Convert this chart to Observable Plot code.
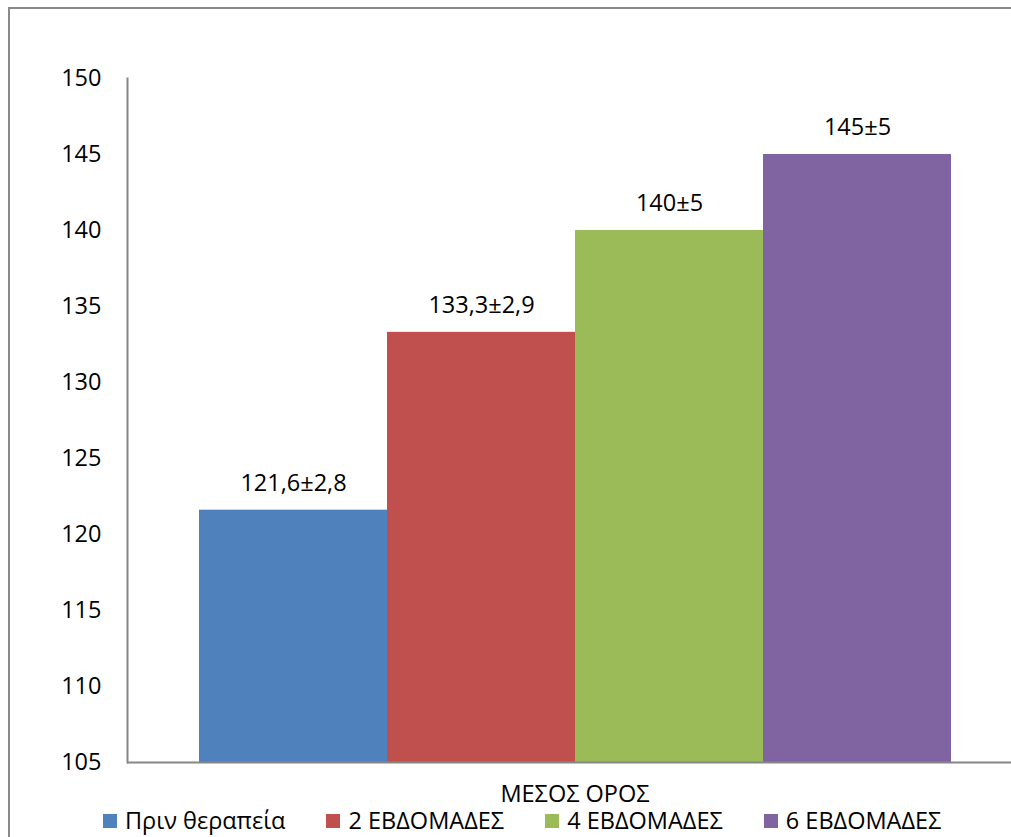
<!DOCTYPE html>
<html>
<head>
<meta charset="utf-8">
<script src="https://cdn.jsdelivr.net/npm/d3@7"></script>
<script src="https://cdn.jsdelivr.net/npm/@observablehq/plot@0.6"></script>
<style>
  html, body { margin: 0; padding: 0; overflow: hidden; background: #fff; width: 1011px; height: 837px; }
  #border { position: absolute; left: 8px; top: 7px; width: 1100px; height: 900px; border: 2px solid #8a8a8a; box-sizing: border-box; }
  #chart { position: absolute; left: 0; top: 0; width: 1022px; }
  #chart svg { max-width: none !important; }
  #legend { position: absolute; left: 103px; top: 809px; display: flex; align-items: center; font-family: "Open Sans", sans-serif; font-size: 23.5px; line-height: 1; color: #000; white-space: nowrap; }
  .item { display: flex; align-items: center; margin-right: 41px; }
  .sw { width: 14px; height: 14px; margin-right: 8px; }
</style>
</head>
<body>
<div id="border"></div>
<div id="chart"></div>
<div id="legend"></div>
<script>
const category = ["ΜΕΣΟΣ ΟΡΟΣ"];
const series = ["Πριν θεραπεία", "2 ΕΒΔΟΜΑΔΕΣ", "4 ΕΒΔΟΜΑΔΕΣ", "6 ΕΒΔΟΜΑΔΕΣ"];
const values = [121.6, 133.3, 140, 145];
const labels = ["121,6±2,8", "133,3±2,9", "140±5", "145±5"];
const colors = ["#4F81BD", "#C0504D", "#9BBB59", "#8064A2"];
const yTicks = [105, 110, 115, 120, 125, 130, 135, 140, 145, 150];

const data = series.map((s, i) => ({series: s, value: values[i], label: labels[i]}));

const chart = Plot.plot({
  width: 1022,
  height: 818,
  marginTop: 78,
  marginBottom: 56,
  marginLeft: 127,
  marginRight: 0,
  style: {fontFamily: "'Open Sans', sans-serif", fontSize: "23.5px", color: "#000", background: "transparent", maxWidth: "none"},
  x: {domain: series, paddingInner: 0, paddingOuter: 0.371, axis: null},
  y: {domain: [105, 150], ticks: yTicks, label: null},
  color: {domain: series, range: colors},
  marks: [
    Plot.barY(data, {x: "series", y1: 105, y2: "value", fill: "series"}),
    Plot.text(data, {x: "series", y: "value", text: "label", dy: -27, fontSize: 23.5, fill: "#000"}),
    Plot.text(category, {frameAnchor: "bottom", lineAnchor: "middle", text: d => d, dy: 32, fontSize: 23.5, fill: "#000"}),
    Plot.axisY({ticks: yTicks, tickSize: 0, tickPadding: 26, label: null, fontSize: 23.5, tickFormat: d => String(d)}),
    Plot.frame({anchor: "left", stroke: "#868686", strokeWidth: 2}),
    Plot.ruleY([105], {stroke: "#868686", strokeWidth: 2})
  ]
});
document.getElementById("chart").appendChild(chart);

const legend = document.getElementById("legend");
series.forEach((s, i) => {
  const item = document.createElement("div");
  item.className = "item";
  const sw = document.createElement("div");
  sw.className = "sw";
  sw.style.background = colors[i];
  const t = document.createElement("span");
  t.textContent = s;
  item.appendChild(sw);
  item.appendChild(t);
  legend.appendChild(item);
});
</script>
</body>
</html>
